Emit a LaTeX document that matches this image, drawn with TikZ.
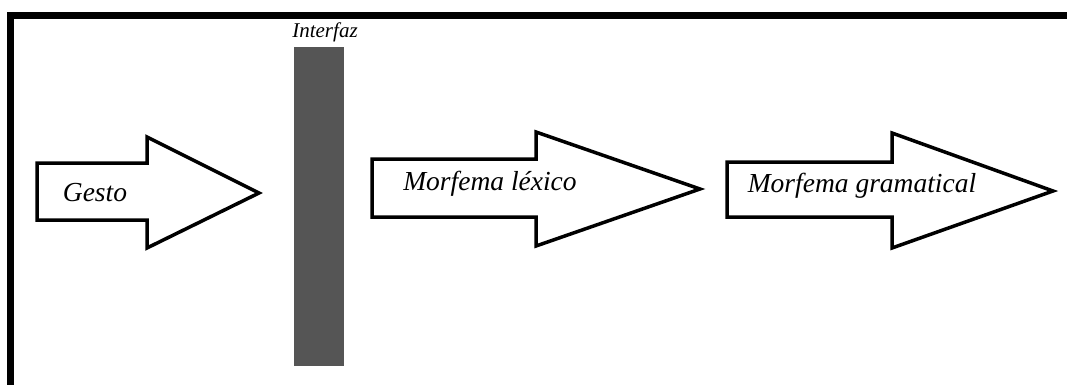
\documentclass[tikz,border=0pt]{standalone}
\usepackage{fontspec}
\setmainfont{Liberation Serif}
\begin{document}
\begin{tikzpicture}[x=1pt,y=-1pt,
  blockarrow/.style={draw=black,line width=3.5pt,line join=miter,fill=white},
  label/.style={font=\itshape\fontsize{27.5}{30}\selectfont,inner sep=0pt},
  barlabel/.style={font=\itshape\fontsize{21}{23}\selectfont,inner sep=0pt}]
\useasboundingbox (0,0) rectangle (1067,385);
\fill[white] (0,0) rectangle (1067,385);
% outer frame: top and left edges
\draw[line width=7pt,line cap=butt] (10,390) -- (10,15.5) -- (1070,15.5);
% interface bar
\fill[fill={rgb,255:red,85;green,85;blue,85}] (294,47) rectangle (344,366);
\node[barlabel] (interfaz) at (325,32) {Interfaz};
% block arrows
\draw[blockarrow] (37,163) -- (147,163) -- (147,137) -- (259,193) -- (147,248) -- (147,220) -- (37,220) -- cycle;
\draw[blockarrow] (372,159) -- (536,159) -- (536,132) -- (700,189) -- (536,246) -- (536,217) -- (372,217) -- cycle;
\draw[blockarrow] (727,162) -- (892,162) -- (892,133) -- (1053,191) -- (892,248) -- (892,217) -- (727,217) -- cycle;
\node[label] (gesto) at (95,193) {Gesto};
\node[label] (lexico) at (490,184) {Morfema léxico};
\node[label] (gramatical) at (862,186) {Morfema gramatical};
\end{tikzpicture}
\end{document}
